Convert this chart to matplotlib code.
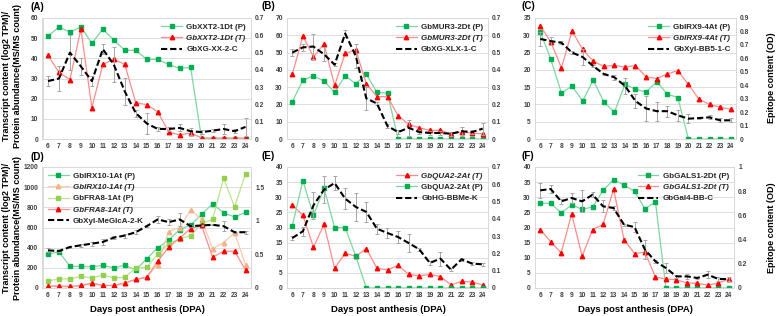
import numpy as np
import matplotlib
matplotlib.use('Agg')
import matplotlib.pyplot as plt
from matplotlib.ticker import FuncFormatter, MultipleLocator

plt.rcParams['font.family'] = ['Liberation Sans', 'DejaVu Sans']
plt.rcParams['font.weight'] = 'bold'

dpa = list(range(6, 25))

# (A)
a_p = [51, 55.5, 53, 55.5, 47.5, 54.5, 49, 44, 44, 39.5, 39.5, 37, 35, 35.5, 0, 0, 0, 0, 0]
a_t = [41.5, 33, 29.5, 54.5, 15.5, 37, 39.5, 37, 18, 17, 13.5, 3.5, 2, 3, 0.5, 0.5, 0.5, 0.5, 0.5]
a_c = [0.335, 0.35, 0.50, 0.42, 0.335, 0.52, 0.43, 0.275, 0.15, 0.09, 0.058, 0.058, 0.064, 0.045, 0.04, 0.048, 0.058, 0.045, 0.07]
a_e = [0.03, 0.07, 0.1, 0.05, 0.03, 0.03, 0.1, 0.08, 0.02, 0.06, 0.01, 0.01, 0.02, 0.02, 0.01, 0.01, 0.03, 0.01, 0.05]

# (B)
b_p = [21.5, 34, 36.5, 33.5, 27, 36.5, 32, 37.5, 27, 26.5, 0, 0, 0, 0, 0, 0, 0, 0, 0]
b_t = [37.5, 59.5, 47.5, 55, 31, 49.5, 51.5, 32, 24.5, 24.5, 13.5, 8.5, 6.5, 5, 5, 3, 4, 3.5, 3]
b_c = [0.50, 0.53, 0.535, 0.49, 0.43, 0.61, 0.48, 0.235, 0.205, 0.075, 0.04, 0.065, 0.04, 0.035, 0.035, 0.03, 0.045, 0.04, 0.06]
b_e = [0.02, 0.02, 0.07, 0.04, 0.01, 0.02, 0.07, 0.07, 0.01, 0.01, 0.01, 0.045, 0.01, 0.01, 0.01, 0.01, 0.025, 0.01, 0.035]

# (C)
c_p = [31, 23, 13.3, 15.3, 11, 17, 10.8, 7.7, 15.8, 14.4, 13.6, 16.6, 13, 12, 0, 0, 0, 0, 0]
c_t = [32.8, 28, 20.6, 31.2, 26, 22.5, 21, 21.3, 20.8, 21.2, 18, 17.5, 18.8, 19.8, 15.8, 11.5, 10, 9.2, 8.6]
c_c = [0.744, 0.728, 0.716, 0.643, 0.61, 0.542, 0.484, 0.459, 0.396, 0.282, 0.227, 0.207, 0.207, 0.176, 0.151, 0.156, 0.161, 0.139, 0.139]
c_e = [0.05, 0.03, 0.01, 0.01, 0.06, 0.01, 0.01, 0.02, 0.06, 0.05, 0.09, 0.07, 0.04, 0.04, 0.035, 0.01, 0.015, 0.015, 0.015]

# (D)
d_irx_p = [335, 360, 215, 215, 210, 225, 200, 225, 180, 290, 400, 475, 580, 625, 730, 835, 745, 705, 750]
d_irx_t = [15, 15, 10, 20, 45, 25, 25, 45, 90, 110, 230, 560, 600, 775, 680, 390, 450, 550, 230]
d_fra_p = [70, 90, 90, 115, 100, 130, 100, 105, 200, 205, 335, 440, 490, 520, 640, 680, 1090, 805, 1130]
d_fra_t = [20, 20, 15, 25, 50, 25, 25, 50, 85, 105, 265, 405, 495, 590, 620, 305, 365, 365, 180]
d_c = [0.56, 0.55, 0.61, 0.635, 0.66, 0.685, 0.75, 0.78, 0.83, 0.92, 1.02, 0.98, 1.02, 0.92, 0.93, 0.94, 0.92, 0.83, 0.83]
d_e = [0.03, 0.01, 0.02, 0.02, 0.03, 0.04, 0.02, 0.03, 0.03, 0.01, 0.05, 0.04, 0.1, 0.01, 0.01, 0.01, 0.07, 0.01, 0.02]

# (E)
e_t = [27.5, 24, 13.5, 21, 6.5, 11.5, 10.5, 13, 6.5, 6, 7.5, 4.5, 4, 4.5, 3.8, 1, 2.2, 2, 1]
e_p = [20.5, 35.5, 24, 33, 20, 20, 10.5, 0, 0, 0, 0, 0, 0, 0, 0, 0, 0, 0, 0]
e_c = [0.289, 0.328, 0.478, 0.569, 0.607, 0.517, 0.469, 0.44, 0.343, 0.318, 0.295, 0.26, 0.224, 0.145, 0.17, 0.106, 0.166, 0.141, 0.137]
e_e = [0.01, 0.025, 0.08, 0.08, 0.04, 0.06, 0.08, 0.06, 0.03, 0.03, 0.035, 0.05, 0.01, 0.01, 0.04, 0.01, 0.01, 0.01, 0.01]

# (F)
f_p = [28, 28, 24.8, 27.5, 26, 26.8, 32.3, 35.8, 34, 32, 26.2, 28.5, 0, 0, 0, 0, 0, 0, 0]
f_t = [19.3, 15.3, 11.6, 24.5, 10.5, 19.3, 21, 32.7, 16, 11.4, 11.8, 3.6, 3, 2.7, 1.7, 1.5, 1, 1.6, 3]
f_c = [0.807, 0.818, 0.716, 0.744, 0.716, 0.771, 0.675, 0.661, 0.523, 0.504, 0.317, 0.22, 0.165, 0.096, 0.096, 0.083, 0.11, 0.074, 0.074]
f_e = [0.06, 0.03, 0.02, 0.04, 0.09, 0.02, 0.05, 0.02, 0.01, 0.04, 0.08, 0.01, 0.04, 0.01, 0.02, 0.01, 0.03, 0.02, 0.02]

W, H = 779, 316
fig = plt.figure(figsize=(W / 100, H / 100), dpi=100)

GREEN = ('#00B050', '#7FD6A0')
RED = ('#FF0000', '#FF8C8C')
LGREEN = ('#92D050', '#BDE38F')
ORANGE = ('#F4B183', '#F8CBAD')
TICK = 4.8


def fmt(v, pos):
    return ('%.1f' % v).rstrip('0').rstrip('.') if v != 0 else '0'


def make_panel(box, ymax, ystep, rmax, rstep, series, black, err, blabel, loc):
    l, t, r, b = box
    ax = fig.add_axes([l / W, 1 - b / H, (r - l) / W, (b - t) / H])
    ax2 = ax.twinx()
    handles = []
    for vals, label, cols, mk in series:
        h, = ax.plot(dpa, vals, color=cols[1], lw=0.9, marker=mk, ms=3.2,
                     mfc=cols[0], mec=cols[0], label=label, zorder=3)
        handles.append(h)
    ax2.errorbar(dpa, black, yerr=err, fmt='none', ecolor='#A6A6A6',
                 elinewidth=0.7, capsize=1.3, capthick=0.7, zorder=2)
    hb, = ax2.plot(dpa, black, color='black', lw=1.5, dashes=(3, 1.4), label=blabel, zorder=4)
    handles.append(hb)
    ax.set_xlim(5.5, 24.5)
    ax.set_ylim(0, ymax)
    ax.yaxis.set_major_locator(MultipleLocator(ystep))
    ax2.set_ylim(0, rmax)
    ax2.yaxis.set_major_locator(MultipleLocator(rstep))
    ax2.yaxis.set_major_formatter(FuncFormatter(fmt))
    ax.set_xticks(dpa)
    ax.grid(axis='y', color='#D9D9D9', lw=0.6)
    ax.set_axisbelow(True)
    for a in (ax, ax2):
        a.tick_params(length=0, labelsize=TICK, pad=3, colors='#404040')
        for s in a.spines.values():
            s.set_color('#D9D9D9')
            s.set_linewidth(0.7)
    leg = ax2.legend(handles=handles, loc=loc, frameon=False, fontsize=5.8,
                     handlelength=2.6, handletextpad=0.5, labelspacing=0.45,
                     borderaxespad=0.25)
    for txt in leg.get_texts():
        txt.set_color('#262626')
        if '(T)' in txt.get_text():
            txt.set_style('italic')
    return ax, ax2


make_panel((42.5, 18, 251, 139), 60, 10, 0.7, 0.1,
           [(a_p, 'GbXXT2-1Dt (P)', GREEN, 's'), (a_t, 'GbXXT2-1Dt (T)', RED, '^')],
           a_c, a_e, 'GbXG-XX-2-C', 'upper right')
make_panel((287, 18, 488, 139), 70, 10, 0.7, 0.1,
           [(b_p, 'GbMUR3-2Dt (P)', GREEN, 's'), (b_t, 'GbMUR3-2Dt (T)', RED, '^')],
           b_c, b_e, 'GbXG-XLX-1-C', 'upper right')
make_panel((535, 18, 736, 139), 35, 5, 0.9, 0.1,
           [(c_p, 'GbIRX9-4At (P)', GREEN, 's'), (c_t, 'GbIRX9-4At (T)', RED, '^')],
           c_c, c_e, 'GbXyl-BB5-1-C', 'upper right')
make_panel((42.5, 167, 251, 288), 1200, 200, 1.8, 0.5,
           [(d_irx_p, 'GbIRX10-1At (P)', GREEN, 's'), (d_irx_t, 'GbIRX10-1At (T)', ORANGE, '^'),
            (d_fra_p, 'GbFRA8-1At (P)', LGREEN, 's'), (d_fra_t, 'GbFRA8-1At (T)', RED, '^')],
           d_c, d_e, 'GbXyl-MeGlcA-2-K', 'upper left')
make_panel((287, 167, 488, 288), 40, 5, 0.7, 0.1,
           [(e_t, 'GbQUA2-2At (T)', RED, '^'), (e_p, 'GbQUA2-2At (P)', GREEN, 's')],
           e_c, e_e, 'GbHG-BBMe-K', 'upper right')
make_panel((535, 167, 734, 288), 40, 5, 1.0, 0.2,
           [(f_p, 'GbGALS1-2Dt (P)', GREEN, 's'), (f_t, 'GbGALS1-2Dt (T)', RED, '^')],
           f_c, f_e, 'GbGal4-BB-C', 'upper right')

# panel letters
for lab, x, y in [('(A)', 30, 2), ('(B)', 262, 1), ('(C)', 522, 1),
                  ('(D)', 30, 152), ('(E)', 262, 151), ('(F)', 522, 151)]:
    fig.text(x / W, 1 - y / H, lab, fontsize=7, fontweight='bold', va='top', ha='left')

ylab = 'Transcript content (log2 TPM)/\nProtein abundance(MS/MS count)'
for yc in (76, 228):
    fig.text(12 / W, 1 - yc / H, ylab, rotation=90, ha='center', va='center',
             fontsize=6.5, fontweight='bold', linespacing=1.15)
for yc in (78, 228):
    fig.text(771 / W, 1 - yc / H, 'Epitope content (OD)', rotation=90, ha='center',
             va='center', fontsize=6.5, fontweight='bold')
for xc in (147, 388, 635):
    fig.text(xc / W, 1 - 309 / H, 'Days post anthesis (DPA)', ha='center', va='center',
             fontsize=6.8, fontweight='bold')

fig.savefig('out.png', dpi=100)
